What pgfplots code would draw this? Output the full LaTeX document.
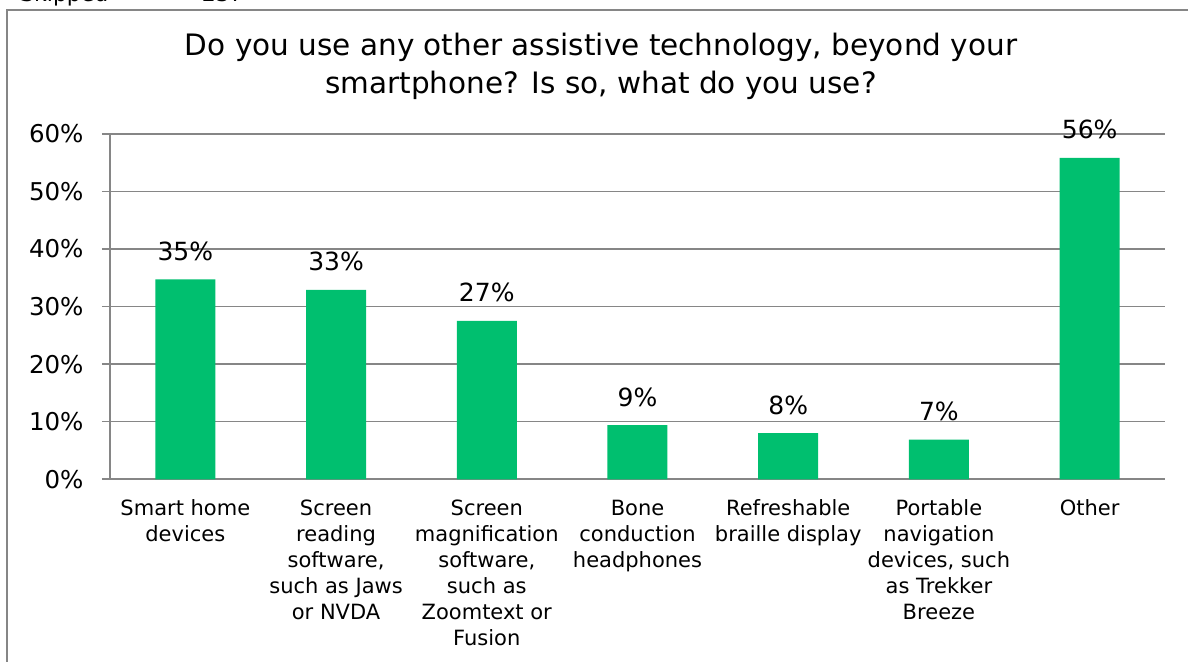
\documentclass[border=0pt]{standalone}
\usepackage{pgfplots}
\pgfplotsset{compat=1.18}
\usepackage{fontspec}
\setmainfont{DejaVu Sans}
\definecolor{bargreen}{RGB}{0,191,111}
\definecolor{linegray}{RGB}{134,134,134}
\begin{document}
\begin{tikzpicture}[x=1pt,y=1pt]
\useasboundingbox (0,0) rectangle (1188,661);
\draw[linegray, line width=1.8pt] (7,-20) -- (7,651) -- (1210,651);
\node[anchor=base west, inner sep=0pt, font=\fontsize{22}{26}\selectfont] at (20,659) {Skipped\hspace{68pt}= 23?};
\node[align=center, font=\fontsize{29.5}{38}\selectfont] at (601,595) {Do you use any other assistive technology, beyond your\\smartphone? Is so, what do you use?};
\begin{axis}[
  at={(110pt,181.7pt)}, anchor=south west,
  scale only axis, width=1055pt, height=345.6pt,
  xmin=-0.5, xmax=6.5, ymin=0, ymax=60,
  axis lines=left, axis line style={-, linegray, line width=1.6pt},
  ytick={0,10,...,60},
  yticklabel={\pgfmathprintnumber{\tick}\%},
  yticklabel style={font=\fontsize{24.5}{28}\selectfont, xshift=-15pt},
  /pgf/number format/assume math mode=true,
  ymajorgrids, major grid style={linegray, line width=1.6pt},
  tick align=outside,
  major tick style={linegray, line width=1.6pt},
  major tick length=8pt,
  xtick={0,...,6},
  x tick style={draw=none},
  minor xtick={-0.5,0.5,...,6.5},
  minor tick length=6pt,
  minor tick style={linegray, line width=1.2pt},
  xticklabels={{Smart home\\devices}, {Screen\\reading\\software,\\such as Jaws\\or NVDA}, {Screen\\magnification\\software,\\such as\\Zoomtext or\\Fusion}, {Bone\\conduction\\headphones}, {Refreshable\\braille display}, {Portable\\navigation\\devices, such\\as Trekker\\Breeze}, {Other}},
  xticklabel style={font=\fontsize{21}{26}\selectfont, align=center, anchor=north, yshift=-9pt},
  ybar, bar width=60pt,
  point meta=explicit symbolic,
  nodes near coords,
  every node near coord/.style={anchor=base, yshift=19pt, font=\fontsize{25}{28}\selectfont, text=black},
]
\addplot[fill=bargreen, draw=none] coordinates {
 (0,34.7) [35\%]
 (1,32.9) [33\%]
 (2,27.5) [27\%]
 (3,9.4) [9\%]
 (4,8.0) [8\%]
 (5,6.9) [7\%]
 (6,55.8) [56\%]
};
\end{axis}
\end{tikzpicture}
\end{document}
